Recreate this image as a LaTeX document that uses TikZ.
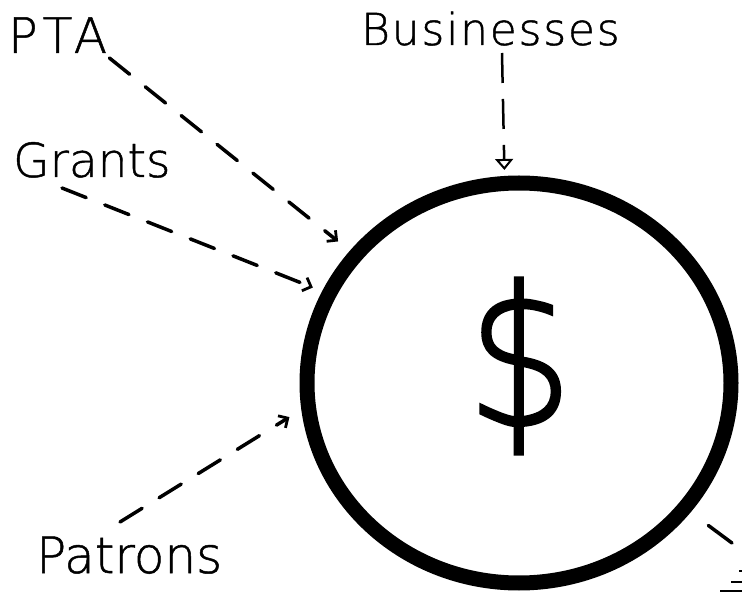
\documentclass[tikz,border=0pt]{standalone}
\usepackage{fontspec}
\setmainfont{DejaVu Sans ExtraLight}[FakeBold=1]
\newfontfamily\wideplot{DejaVu Sans ExtraLight}[FakeBold=1, LetterSpace=10]
\newfontfamily\dollarfont{DejaVu Sans ExtraLight}[FakeBold=1.6]
\usetikzlibrary{arrows.meta,shapes.geometric}
\begin{document}
\begin{tikzpicture}[x=1pt,y=-1pt,
  source/.style={inner sep=0pt, anchor=base west, font=\fontsize{47}{47}\selectfont},
  flow/.style={line width=3.5pt, dash pattern=on 26pt off 20pt, line cap=round,
    -{Straight Barb[angle=90:10pt, line width=2.8pt]}},
  drop/.style={line width=2.5pt, dash pattern=on 30pt off 16pt,
    -{Triangle[open, length=11pt, width=18pt, line width=2pt]}},
  fund/.style={draw, ellipse, line width=15pt, minimum width=424pt,
    minimum height=400pt, inner sep=0pt}]
\useasboundingbox (0,0) rectangle (742,593);

% the money pot
\node[fund] (money) at (519,383) {};
\node[inner sep=0pt, xscale=0.86, transform shape,
  font=\dollarfont\fontsize{194}{194}\selectfont] (dollar) at (520,366) {\$};

% sources of money
\node[source, font=\wideplot\fontsize{49}{49}\selectfont] (pta) at (8,53) {PTA};
\node[source] (grants) at (13,177) {Grants};
\node[source, font=\addfontfeatures{LetterSpace=4}\fontsize{44}{44}\selectfont] (biz) at (361,45) {Businesses};
\node[source, font=\fontsize{50}{50}\selectfont] (patrons) at (36,573) {Patrons};

% flows into the pot
\draw[flow, shorten >=15pt] ([shift={(2,5)}]pta.base east) -- (money.142);
\draw[flow, shorten >=10pt] ([shift={(49,11)}]grants.base west) -- (money.155);
\draw[flow, shorten >=14pt] ([shift={(84,-51)}]patrons.base west) -- (money.187);
\draw[drop, shorten >=6pt] ([shift={(141,8)}]biz.base west) -- (money.94.6);

% outgoing flow, cut at the page edge
\coordinate (tail) at (732,543);
\draw[line width=3.5pt, line cap=round, shorten <=22pt] (money.-37.5) -- (tail);
\draw[line width=2pt] (739,571) -- (742,571) (731,582) -- (742,582) (720,591) -- (742,591);
\end{tikzpicture}
\end{document}
